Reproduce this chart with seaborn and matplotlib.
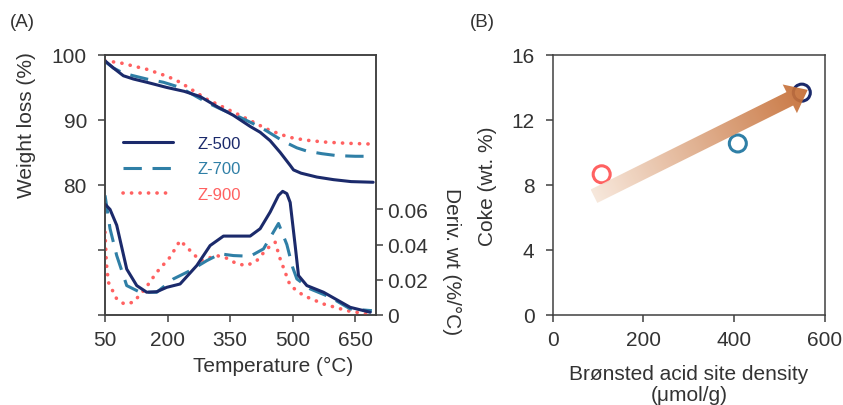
import numpy as np
import pandas as pd
import matplotlib
matplotlib.use("Agg")
import matplotlib.pyplot as plt
from matplotlib.patches import Polygon
import seaborn as sns

# ---------------- data ----------------
samples = ["Z-500", "Z-700", "Z-900"]
colors = {"Z-500": "#1b2a6b", "Z-700": "#2f7fa6", "Z-900": "#ff6161"}

# TGA weight curves (left axis, %)
tga_t_500 = [50, 70, 94, 118, 150, 198, 240, 278, 320, 358, 398, 422, 446, 470, 494, 502, 520, 558, 598, 640, 693]
tga_w_500 = [99.1, 98.0, 96.8, 96.3, 95.8, 95.0, 94.4, 93.6, 92.0, 90.7, 89.0, 88.1, 86.8, 85.0, 83.0, 82.3, 81.8, 81.2, 80.8, 80.5, 80.4]
tga_t_700 = [50, 70, 94, 118, 150, 190, 230, 294, 330, 374, 406, 430, 478, 510, 534, 570, 606, 650, 693]
tga_w_700 = [99.0, 98.0, 97.2, 96.8, 96.3, 95.8, 95.0, 92.7, 91.6, 90.4, 89.4, 88.6, 86.7, 85.7, 85.2, 84.8, 84.5, 84.4, 84.4]
tga_t_900 = [50, 86, 150, 200, 230, 294, 374, 438, 470, 494, 530, 574, 630, 681]
tga_w_900 = [99.1, 98.8, 97.8, 96.7, 95.8, 93.2, 90.7, 88.6, 87.8, 87.3, 86.9, 86.6, 86.4, 86.3]

# DTG curves (right axis, %/°C)
dtg_t_500 = [50, 62, 78, 102, 126, 150, 174, 198, 230, 270, 302, 334, 366, 398, 422, 446, 466, 476, 486, 494, 506, 514, 534, 574, 638, 686]
dtg_d_500 = [0.063, 0.060, 0.051, 0.026, 0.0166, 0.0128, 0.0131, 0.0156, 0.0175, 0.028, 0.0394, 0.0448, 0.0448, 0.0448,
             0.049, 0.0585, 0.068, 0.0703, 0.069, 0.064, 0.0394, 0.0223, 0.0166, 0.0128, 0.0042, 0.0014]
dtg_t_700 = [50, 62, 78, 102, 134, 174, 214, 254, 294, 326, 358, 398, 430, 466, 486, 500, 510, 542, 590, 638, 690]
dtg_d_700 = [0.068, 0.049, 0.0337, 0.0166, 0.0128, 0.0128, 0.0204, 0.0251, 0.0308, 0.0347, 0.0337, 0.0333, 0.0375,
             0.052, 0.040, 0.027, 0.0204, 0.0147, 0.010, 0.0033, 0.0023]
dtg_t_900 = [50, 51.5, 53, 58, 70, 78, 96, 118, 146, 174, 206, 230, 246, 278, 318, 342, 366, 390, 414, 438, 458, 470,
             494, 526, 574, 630, 678]
dtg_d_900 = [0.047, 0.039, 0.030, 0.0185, 0.0128, 0.009, 0.0061, 0.0071, 0.0147, 0.0242, 0.0328, 0.0423, 0.0385, 0.0308,
             0.0337, 0.0322, 0.029, 0.028, 0.0308, 0.0375, 0.0413, 0.0318, 0.0166, 0.0109, 0.0061, 0.0023, 0.0004]

# Panel B
bas_density = [108, 408, 549]     # µmol/g  (Z-900, Z-700, Z-500)
coke = [8.65, 10.55, 13.68]
coke_samples = ["Z-900", "Z-700", "Z-500"]
arrow_start = (91, 7.3)
arrow_end = (562, 13.85)

# ---------------- style ----------------
sns.set_style("ticks")
plt.rcParams["font.family"] = ["Liberation Sans", "DejaVu Sans"]
TXT = "#333333"
SP = "#404040"
plt.rcParams.update({
    "axes.edgecolor": SP, "axes.linewidth": 1.1,
    "xtick.color": SP, "ytick.color": SP,
    "xtick.labelcolor": TXT, "ytick.labelcolor": TXT,
    "xtick.major.size": 5, "ytick.major.size": 5,
    "xtick.major.width": 1.1, "ytick.major.width": 1.1,
    "xtick.direction": "out", "ytick.direction": "out",
})
FS = 15

fig = plt.figure(figsize=(8.43, 4.06), dpi=100)
axA = fig.add_axes([0.1246, 0.2224, 0.3215, 0.6397])
axA2 = axA.twinx()
axB = fig.add_axes([0.6556, 0.2224, 0.323, 0.6397])

lw = 2.2
styles = {
    "Z-500": dict(linestyle="-"),
    "Z-700": dict(linestyle=(0, (6, 3.5))),
    "Z-900": dict(linestyle=(0, (0.05, 2.3)), dash_capstyle="round", solid_capstyle="round"),
}
tga = {"Z-500": (tga_t_500, tga_w_500), "Z-700": (tga_t_700, tga_w_700), "Z-900": (tga_t_900, tga_w_900)}
dtg = {"Z-500": (dtg_t_500, dtg_d_500), "Z-700": (dtg_t_700, dtg_d_700), "Z-900": (dtg_t_900, dtg_d_900)}

for s in ["Z-900", "Z-700", "Z-500"]:
    extra_lw = 2.6 if s == "Z-900" else lw
    sns.lineplot(x=tga[s][0], y=tga[s][1], ax=axA, color=colors[s], lw=extra_lw, label=s, sort=False, **styles[s])
    sns.lineplot(x=dtg[s][0], y=dtg[s][1], ax=axA2, color=colors[s], lw=extra_lw, sort=False, **styles[s])

axA.set_xlim(50, 700)
axA.set_ylim(60, 100)
axA2.set_ylim(0, 0.148)
axA.set_xticks([50, 200, 350, 500, 650])
axA.set_yticks([60, 70, 80, 90, 100])
axA.set_yticklabels(["", "", "80", "90", "100"])
axA2.set_yticks([0, 0.02, 0.04, 0.06])
axA2.set_yticklabels(["0", "0.02", "0.04", "0.06"])
for a in (axA, axA2):
    for sp in a.spines.values():
        sp.set_visible(True)
        sp.set_color(SP)
axA.tick_params(axis="x", labelsize=FS, pad=6)
axA.tick_params(axis="y", labelsize=FS, pad=8)
axA2.tick_params(axis="y", labelsize=FS, pad=3)
axA.set_xlabel("Temperature (°C)", fontsize=FS, color=TXT)
axA.xaxis.set_label_coords(0.62, -0.16)
axA.set_ylabel("Weight loss (%)", fontsize=FS, color=TXT)
axA.yaxis.set_label_coords(-0.255, 0.735)
axA2.set_ylabel("Deriv. wt (%/°C)", fontsize=FS, color=TXT, rotation=270)
axA2.yaxis.set_label_coords(1.315, 0.21)

# legend (order Z-500, Z-700, Z-900)
h, l = axA.get_legend_handles_labels()
order = [l.index(s) for s in samples]
leg = axA.legend([h[i] for i in order], [l[i] for i in order], loc="upper left",
                 bbox_to_anchor=(0.035, 0.72), frameon=False, fontsize=12,
                 handlelength=3.0, handletextpad=1.5, labelspacing=0.62, borderpad=0,
                 labelcolor="linecolor")

# Panel B
for s, xv, yv in zip(coke_samples, bas_density, coke):
    sns.scatterplot(x=[xv], y=[yv], ax=axB, marker="o", s=150, color=colors[s],
                    facecolor="none", edgecolor=colors[s], linewidth=2.2, zorder=3)
axB.set_xlim(0, 600)
axB.set_ylim(0, 16)
axB.set_xticks([0, 200, 400, 600])
axB.set_yticks([0, 4, 8, 12, 16])
axB.tick_params(axis="x", labelsize=FS, pad=6)
axB.tick_params(axis="y", labelsize=FS, pad=8)
for sp in axB.spines.values():
    sp.set_visible(True)
    sp.set_color(SP)
axB.set_xlabel("Brønsted acid site density\n(μmol/g)", fontsize=FS, color=TXT, linespacing=1.15)
axB.xaxis.set_label_coords(0.5, -0.19)
axB.xaxis.label.set_va("top")
axB.set_ylabel("Coke (wt. %)", fontsize=FS, color=TXT)
axB.yaxis.set_label_coords(-0.205, 0.5)

# gradient arrow built from the start/end points
def gradient_arrow(ax, p0, p1, shaft, headw, headl, c0, c1, alpha=0.92):
    T = ax.transData.transform(p0)
    P = ax.transData.transform(p1)
    v = P - T
    L = np.hypot(*v)
    u = v / L
    n = np.array([-u[1], u[0]])
    B = P - u * headl
    pts = [T + n * shaft / 2, B + n * shaft / 2, B + n * headw / 2, P,
           B - n * headw / 2, B - n * shaft / 2, T - n * shaft / 2]
    inv = ax.transData.inverted()
    dpts = inv.transform(np.array(pts))
    poly = Polygon(dpts, closed=True, facecolor="none", edgecolor="none", transform=ax.transData)
    ax.add_patch(poly)
    x0, y0 = dpts.min(axis=0)
    x1, y1 = dpts.max(axis=0)
    gx = np.linspace(x0, x1, 300)
    gy = np.linspace(y0, y1, 200)
    GX, GY = np.meshgrid(gx, gy)
    disp = ax.transData.transform(np.column_stack([GX.ravel(), GY.ravel()]))
    t = np.clip(((disp - T) @ u) / L, 0, 1).reshape(GX.shape)
    c0 = np.array(matplotlib.colors.to_rgb(c0))
    c1 = np.array(matplotlib.colors.to_rgb(c1))
    img = np.zeros(GX.shape + (4,))
    img[..., :3] = c0 + (c1 - c0) * t[..., None]
    img[..., 3] = alpha
    im = ax.imshow(img, extent=(x0, x1, y0, y1), origin="lower", aspect="auto", zorder=4,
                   interpolation="bilinear")
    im.set_clip_path(poly)

gradient_arrow(axB, arrow_start, arrow_end, shaft=15, headw=32, headl=20,
               c0="#f7e6d9", c1="#c46a30")
axB.set_xlim(0, 600)
axB.set_ylim(0, 16)

fig.text(0.012, 0.945, "(A)", fontsize=13.5, color=TXT, va="center")
fig.text(0.557, 0.945, "(B)", fontsize=13.5, color=TXT, va="center")

fig.savefig("out.png", dpi=100)
